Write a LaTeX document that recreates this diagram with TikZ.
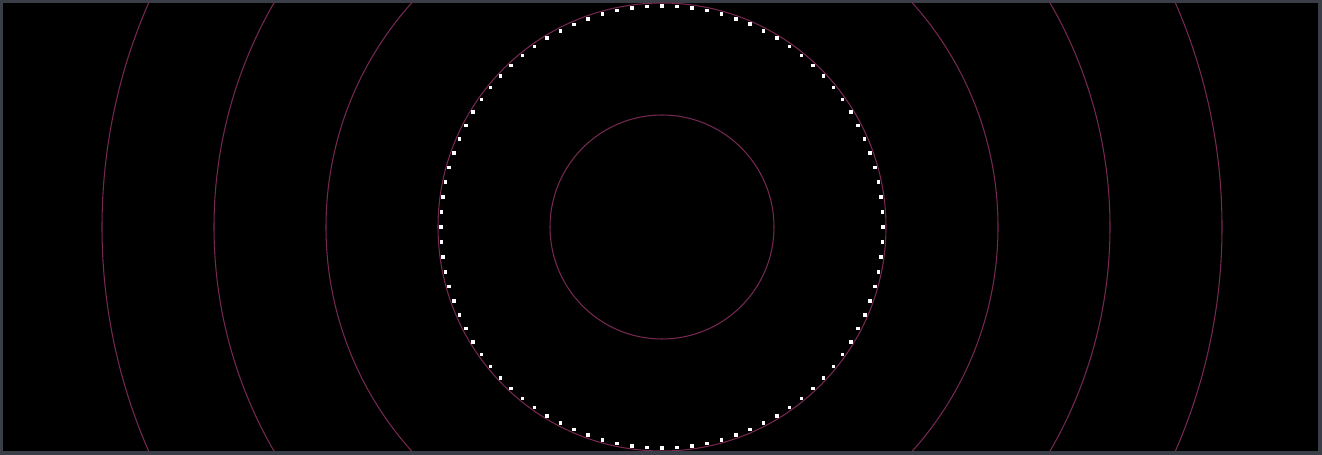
\documentclass[tikz,border=0pt]{standalone}
\usepackage{tikz}
\usetikzlibrary{calc}
\definecolor{ringred}{RGB}{118,40,82}
\definecolor{framegray}{RGB}{58,62,70}
\tikzset{
  line cap=round,
  line join=round,
  ring/.style={draw=ringred, line width=0.6pt},
  dotsq/.style={fill=white}
}

\begin{document}
\begin{tikzpicture}[x=0.02cm, y=-0.02cm]

\useasboundingbox (0,0) rectangle (1322,455);

% 테두리와 배경
\fill[framegray] (0,0) rectangle (1322,455);
\fill[black] (3,3) rectangle (1318,451);

\coordinate (c) at (662,227);

% 동심원
\begin{scope}
\clip (3,3) rectangle (1318,451);
\foreach \r in {112,224,336,448,560}
  \draw[ring] (c) circle[radius=\r];
\end{scope}

% 점선 원
\foreach \a in {0,3.913,...,359}
  \fill[dotsq] ($(c)+(\a:221)$) +(-1.8,-1.8) rectangle +(1.8,1.8);

\end{tikzpicture}
\end{document}
